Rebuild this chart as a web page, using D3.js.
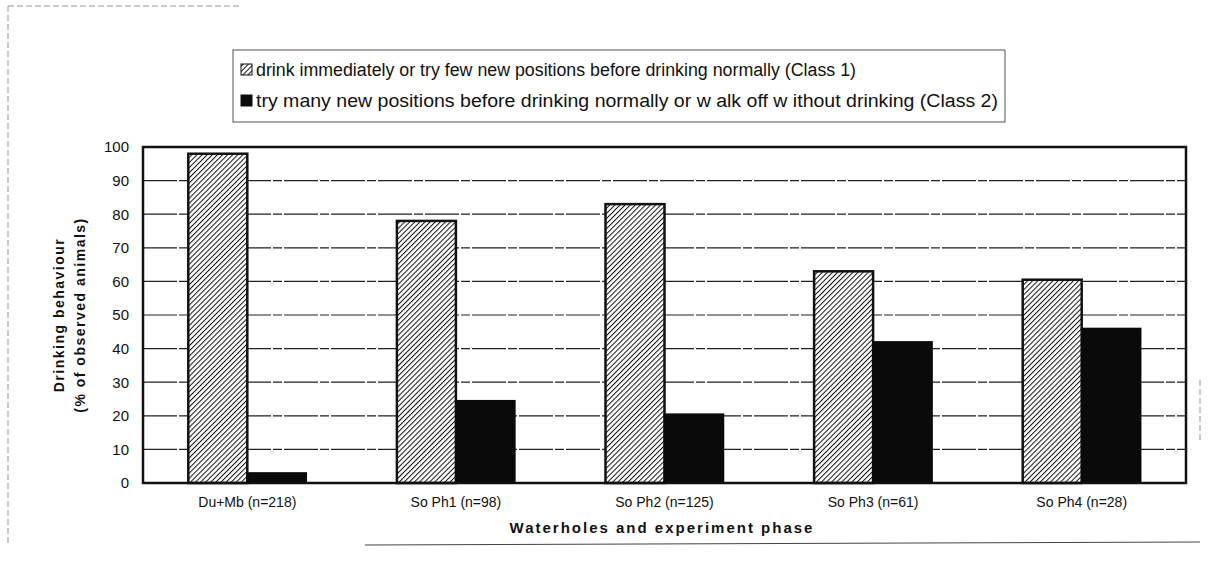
<!DOCTYPE html>
<html>
<head>
<meta charset="utf-8">
<script src="https://cdn.jsdelivr.net/npm/d3@7"></script>
<style>
  body { margin: 0; background: #fff; }
  svg { display: block; }
  text { font-family: "Liberation Sans", Arial, sans-serif; fill: #111; }
</style>
</head>
<body>
<svg id="chart" width="1210" height="565"></svg>
<script>
// data
var categories = ["Du+Mb (n=218)", "So Ph1 (n=98)", "So Ph2 (n=125)", "So Ph3 (n=61)", "So Ph4 (n=28)"];
var class1 = [98, 78, 83, 63, 60.5];
var class2 = [3, 24.5, 20.5, 42, 46];
var seriesNames = [
  "drink immediately or try few  new  positions before drinking normally (Class 1)",
  "try many new  positions before drinking normally or w alk off w ithout drinking (Class 2)"
];
var yTicks = [0, 10, 20, 30, 40, 50, 60, 70, 80, 90, 100];

var margin = {top: 147, right: 1210 - 1186, bottom: 565 - 483, left: 143};
var width = 1210 - margin.left - margin.right;
var height = 565 - margin.top - margin.bottom;

var svg = d3.select("#chart");

// hatch pattern for class 1
var defs = svg.append("defs");
var pat = defs.append("pattern")
  .attr("id", "hatch")
  .attr("patternUnits", "userSpaceOnUse")
  .attr("width", 3.6)
  .attr("height", 3.6)
  .attr("patternTransform", "rotate(45)");
pat.append("rect").attr("width", 3.6).attr("height", 3.6).attr("fill", "#fff");
pat.append("line")
  .attr("x1", 0).attr("y1", 0).attr("x2", 0).attr("y2", 3.6)
  .attr("stroke", "#111").attr("stroke-width", 2);

// faint scan frame
var frame = svg.append("g").attr("stroke", "#999").attr("stroke-width", 1).attr("stroke-dasharray", "6,3");
frame.append("line").attr("x1", 8).attr("y1", 6).attr("x2", 8).attr("y2", 545);
frame.append("line").attr("x1", 8).attr("y1", 6).attr("x2", 240).attr("y2", 6);
frame.append("line").attr("x1", 1200).attr("y1", 380).attr("x2", 1200).attr("y2", 440);
svg.append("line").attr("x1", 365).attr("y1", 545).attr("x2", 1200).attr("y2", 542)
  .attr("stroke", "#444").attr("stroke-width", 1);

var g = svg.append("g").attr("transform", "translate(" + margin.left + "," + margin.top + ")");

var x0 = d3.scaleBand().domain(categories).range([0, width]).paddingInner(0).paddingOuter(0);
var barW = 59;
var x1 = d3.scaleBand().domain(["c1", "c2"]).range([x0.bandwidth() / 2 - barW, x0.bandwidth() / 2 + barW]);
var y = d3.scaleLinear().domain([0, 100]).range([height, 0]);

// gridlines
g.append("g")
  .selectAll("line")
  .data(yTicks.filter(function(d) { return d > 0 && d < 100; }))
  .enter().append("line")
  .attr("x1", 0).attr("x2", width)
  .attr("y1", function(d) { return y(d); })
  .attr("y2", function(d) { return y(d); })
  .attr("stroke", "#222")
  .attr("stroke-width", 1.2)
  .attr("stroke-dasharray", "34,2,9,2");

// y axis
var yAxis = g.append("g")
  .call(d3.axisLeft(y).tickValues(yTicks).tickSize(0).tickPadding(14));
yAxis.select(".domain").remove();
yAxis.selectAll("text").style("font-size", "15px").style("font-family", "Liberation Sans, Arial, sans-serif").attr("fill", "#111");

// bars
var groups = g.selectAll(".grp")
  .data(categories)
  .enter().append("g")
  .attr("class", "grp")
  .attr("transform", function(d) { return "translate(" + x0(d) + ",0)"; });

groups.append("rect")
  .attr("x", x1("c1"))
  .attr("width", x1.bandwidth())
  .attr("y", function(d, i) { return y(class1[i]); })
  .attr("height", function(d, i) { return height - y(class1[i]); })
  .attr("fill", "url(#hatch)")
  .attr("stroke", "#111")
  .attr("stroke-width", 2.5);

groups.append("rect")
  .attr("x", x1("c2"))
  .attr("width", x1.bandwidth())
  .attr("y", function(d, i) { return y(class2[i]); })
  .attr("height", function(d, i) { return height - y(class2[i]); })
  .attr("fill", "#0a0a0a")
  .attr("stroke", "#0a0a0a")
  .attr("stroke-width", 1.5);

// plot border
g.append("rect")
  .attr("x", 0).attr("y", 0).attr("width", width).attr("height", height)
  .attr("fill", "none").attr("stroke", "#111").attr("stroke-width", 2.5);

// x labels
var xAxis = g.append("g")
  .attr("transform", "translate(0," + height + ")")
  .call(d3.axisBottom(x0).tickSize(0).tickPadding(14));
xAxis.select(".domain").remove();
xAxis.selectAll("text").style("font-size", "14px").style("font-family", "Liberation Sans, Arial, sans-serif").attr("fill", "#111");

// axis titles
svg.append("text")
  .attr("x", 662)
  .attr("y", 533)
  .attr("text-anchor", "middle")
  .style("font-size", "15px")
  .style("font-weight", "bold")
  .style("letter-spacing", "2px")
  .text("Waterholes and experiment phase");

var yt = svg.append("g").attr("transform", "translate(64," + (margin.top + height / 2) + ") rotate(-90)");
yt.append("text").attr("text-anchor", "middle").attr("y", 0)
  .style("font-size", "14px").style("font-weight", "bold").style("letter-spacing", "1.5px")
  .text("Drinking behaviour");
yt.append("text").attr("text-anchor", "middle").attr("y", 21)
  .style("font-size", "14px").style("font-weight", "bold").style("letter-spacing", "1.5px")
  .text("(% of observed animals)");

// legend
var leg = svg.append("g").attr("transform", "translate(233,50)");
leg.append("rect").attr("width", 772).attr("height", 72)
  .attr("fill", "#fff").attr("stroke", "#555").attr("stroke-width", 1);
var fills = ["url(#hatch)", "#0a0a0a"];
var textLens = [600, 742];
var items = leg.selectAll(".li")
  .data(seriesNames)
  .enter().append("g")
  .attr("class", "li")
  .attr("transform", function(d, i) { return "translate(8," + (26 + i * 31) + ")"; });
items.append("rect")
  .attr("x", 0).attr("y", -12).attr("width", 11).attr("height", 11)
  .attr("fill", function(d, i) { return fills[i]; })
  .attr("stroke", "#111").attr("stroke-width", 1);
items.append("text")
  .attr("x", 15).attr("y", 0)
  .attr("textLength", function(d, i) { return textLens[i]; })
  .attr("lengthAdjust", "spacingAndGlyphs")
  .style("font-size", "18px")
  .text(function(d) { return d; });
</script>
</body>
</html>
